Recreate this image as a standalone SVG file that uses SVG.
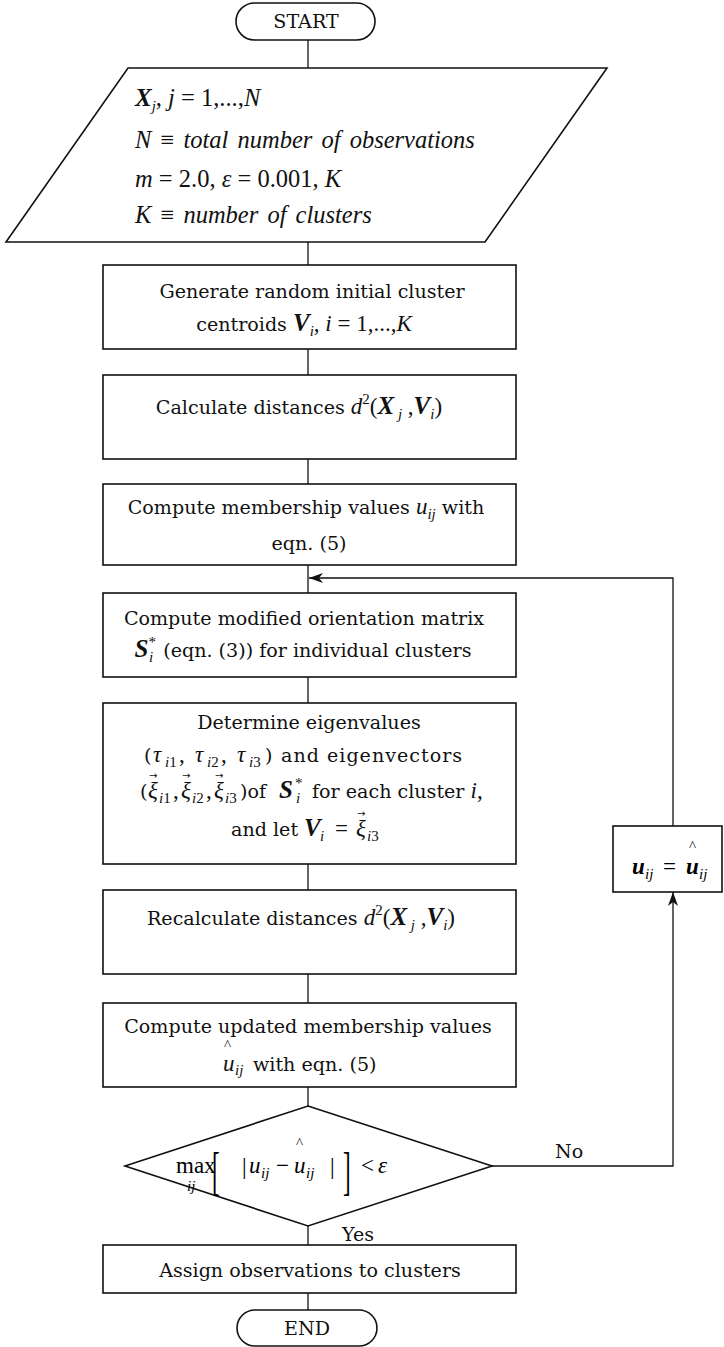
<svg xmlns="http://www.w3.org/2000/svg" width="724" height="1347" viewBox="0 0 724 1347">
  <style>
    .shape{fill:#fff;stroke:#111;stroke-width:1.6}
    .conn{fill:none;stroke:#111;stroke-width:1.3}
    .t{font-family:"DejaVu Serif",serif;font-size:19.1px;fill:#111}
    .m{font-family:"Liberation Serif",serif;font-style:italic;font-size:23px}
    .r{font-family:"Liberation Serif",serif;font-style:normal;font-size:23px}
    .b{font-family:"Liberation Serif",serif;font-style:italic;font-weight:bold;font-size:25px}
    .s{font-family:"Liberation Serif",serif;font-style:italic;font-size:15px}
    .hat{font-family:"Liberation Serif",serif;font-size:15px;fill:#111}
    .vec{font-family:"DejaVu Sans",sans-serif;font-size:10px;fill:#111}
    .io{font-family:"Liberation Serif",serif;font-style:italic;font-size:24.5px;fill:#111}
    .wide{word-spacing:3px}
  </style>
  <defs>
    <marker id="arr" viewBox="0 0 14 10" refX="14" refY="5" markerWidth="14" markerHeight="10" markerUnits="userSpaceOnUse" orient="auto">
      <path d="M0,0 L14,5 L0,10 L4,5 z" fill="#111"/>
    </marker>
  </defs>

  <!-- connectors -->
  <g id="connectors">
    <line class="conn" x1="308" y1="40" x2="308" y2="68"/>
    <line class="conn" x1="308" y1="242" x2="308" y2="265"/>
    <line class="conn" x1="308" y1="349" x2="308" y2="375"/>
    <line class="conn" x1="308" y1="459" x2="308" y2="484"/>
    <line class="conn" x1="308" y1="565" x2="308" y2="593"/>
    <line class="conn" x1="308" y1="677" x2="308" y2="703"/>
    <line class="conn" x1="308" y1="864" x2="308" y2="890"/>
    <line class="conn" x1="308" y1="974" x2="308" y2="1003"/>
    <line class="conn" x1="308" y1="1087" x2="308" y2="1106"/>
    <line class="conn" x1="308" y1="1226" x2="308" y2="1245"/>
    <line class="conn" x1="308" y1="1293" x2="308" y2="1310"/>
    <!-- "No" branch up to the update box -->
    <path class="conn" d="M492,1166 H673 V892" marker-end="url(#arr)"/>
    <!-- loop back into the main column -->
    <path class="conn" d="M673,826 V578 H309" marker-end="url(#arr)"/>
    <text class="t" x="555" y="1158">No</text>
    <text class="t" x="342" y="1241">Yes</text>
  </g>

  <g id="start">
    <rect class="shape" x="236" y="3" width="139" height="37" rx="18.5"/>
    <text class="t" x="306" y="28" text-anchor="middle">START</text>
  </g>

  <g id="input">
    <polygon class="shape" points="128,68 607,68 485,242 6,242"/>
    <text class="io" x="135" y="106"><tspan class="b" font-size="24.5px">X</tspan><tspan class="s" dy="5">j</tspan><tspan style="font-style:normal" dy="-5">, </tspan>j<tspan style="font-style:normal"> = 1,...,</tspan>N</text>
    <text class="io wide" x="135" y="148">N <tspan style="font-style:normal">≡</tspan> total number of observations</text>
    <text class="io" x="135" y="187">m<tspan style="font-style:normal"> = 2.0, </tspan>ε<tspan style="font-style:normal"> = 0.001, </tspan>K</text>
    <text class="io wide" x="135" y="223">K <tspan style="font-style:normal">≡</tspan> number of clusters</text>
  </g>

  <g id="init-centroids">
    <rect class="shape" x="103" y="265" width="413" height="84"/>
    <text class="t" x="312" y="298" text-anchor="middle">Generate random initial cluster</text>
    <text class="t" x="304" y="331" text-anchor="middle">centroids <tspan class="b">V</tspan><tspan class="s" dy="5">i</tspan><tspan class="r" dy="-5">, </tspan><tspan class="m">i</tspan><tspan class="r"> = 1,...,</tspan><tspan class="m">K</tspan></text>
  </g>

  <g id="distances">
    <rect class="shape" x="103" y="375" width="413" height="84"/>
    <text class="t" x="299" y="414" text-anchor="middle">Calculate distances <tspan class="m">d</tspan><tspan class="s" style="font-style:normal" dy="-10">2</tspan><tspan class="r" dy="10">(</tspan><tspan class="b">X</tspan><tspan class="s" dy="5"> j</tspan><tspan class="r" dy="-5"> ,</tspan><tspan class="b">V</tspan><tspan class="s" dy="5">i</tspan><tspan class="r" dy="-5">)</tspan></text>
  </g>

  <g id="membership">
    <rect class="shape" x="103" y="484" width="413" height="81"/>
    <text class="t" x="306" y="514" text-anchor="middle">Compute membership values <tspan class="m">u</tspan><tspan class="s" dy="5">ij</tspan><tspan dy="-5"> with</tspan></text>
    <text class="t" x="309" y="550" text-anchor="middle">eqn. (5)</text>
  </g>

  <g id="orientation">
    <rect class="shape" x="103" y="593" width="413" height="84"/>
    <text class="t" x="304" y="625" text-anchor="middle">Compute modified orientation matrix</text>
    <text class="t" x="303" y="657" text-anchor="middle"><tspan class="b">S</tspan><tspan class="s" style="font-style:normal" dy="-10">*</tspan><tspan class="s" dx="-7" dy="15">i</tspan><tspan dy="-5" dx="4"> (eqn. (3)) for individual clusters</tspan></text>
  </g>

  <g id="eigen">
    <rect class="shape" x="103" y="703" width="413" height="161"/>
    <text class="t" x="309" y="729" text-anchor="middle">Determine eigenvalues</text>
    <text class="t" y="762"><tspan x="144">(</tspan><tspan class="m" x="153">τ</tspan><tspan class="s" x="165" dy="5">i</tspan><tspan class="s" style="font-style:normal">1</tspan><tspan class="r" x="179" dy="-5">,</tspan><tspan class="m" x="195">τ</tspan><tspan class="s" x="207" dy="5">i</tspan><tspan class="s" style="font-style:normal">2</tspan><tspan class="r" x="221" dy="-5">,</tspan><tspan class="m" x="237">τ</tspan><tspan class="s" x="249" dy="5">i</tspan><tspan class="s" style="font-style:normal">3</tspan><tspan x="265" dy="-5">)</tspan><tspan x="281" letter-spacing="1">and eigenvectors</tspan></text>
    <text class="t" y="798"><tspan x="140">(</tspan><tspan class="m" x="148">ξ</tspan><tspan class="s" x="159" dy="5">i</tspan><tspan class="s" style="font-style:normal">1</tspan><tspan class="r" x="173" dy="-5">,</tspan><tspan class="m" x="181">ξ</tspan><tspan class="s" x="192" dy="5">i</tspan><tspan class="s" style="font-style:normal">2</tspan><tspan class="r" x="206" dy="-5">,</tspan><tspan class="m" x="214">ξ</tspan><tspan class="s" x="225" dy="5">i</tspan><tspan class="s" style="font-style:normal">3</tspan><tspan x="240" dy="-5">)of</tspan><tspan class="b" x="279">S</tspan><tspan class="s" style="font-style:normal" x="295" dy="-10">*</tspan><tspan class="s" x="296" dy="15">i</tspan><tspan x="312" dy="-5">for each cluster </tspan><tspan class="m">i</tspan><tspan class="r">,</tspan></text>
    <text class="vec" x="149" y="779">→</text>
    <text class="vec" x="182" y="779">→</text>
    <text class="vec" x="215" y="779">→</text>
    <text class="t" y="836"><tspan x="231">and let </tspan><tspan class="b" x="304">V</tspan><tspan class="s" x="320" dy="5">i</tspan><tspan class="r" x="335" dy="-5">=</tspan><tspan class="m" x="356">ξ</tspan><tspan class="s" x="367" dy="5">i</tspan><tspan class="s" style="font-style:normal">3</tspan></text>
    <text class="vec" x="357" y="817">→</text>
  </g>

  <g id="recalc">
    <rect class="shape" x="103" y="890" width="413" height="84"/>
    <text class="t" x="301" y="925" text-anchor="middle">Recalculate distances <tspan class="m">d</tspan><tspan class="s" style="font-style:normal" dy="-10">2</tspan><tspan class="r" dy="10">(</tspan><tspan class="b">X</tspan><tspan class="s" dy="5"> j</tspan><tspan class="r" dy="-5"> ,</tspan><tspan class="b">V</tspan><tspan class="s" dy="5">i</tspan><tspan class="r" dy="-5">)</tspan></text>
  </g>

  <g id="update-membership">
    <rect class="shape" x="103" y="1003" width="413" height="84"/>
    <text class="t" x="308" y="1033" text-anchor="middle">Compute updated membership values</text>
    <text class="hat" x="224" y="1050">^</text>
    <text class="t" y="1071"><tspan class="m" x="223">u</tspan><tspan class="s" x="235" dy="4">ij</tspan><tspan x="253" dy="-4">with eqn. (5)</tspan></text>
  </g>

  <g id="convergence">
    <polygon class="shape" points="308,1106 492,1166 308,1226 125,1166"/>
    <text class="r" x="176" y="1173" font-size="21">max</text>
    <text class="s" x="187" y="1191" font-size="12">ij</text>
    <text class="r" transform="translate(212,1189) scale(1,2.25)" font-size="22">[</text>
    <text class="r" transform="translate(343,1189) scale(1,2.25)" font-size="22">]</text>
    <text class="r" x="242" y="1174">|</text>
    <text class="m" x="249" y="1173">u</text>
    <text class="s" x="261" y="1178" font-size="13">ij</text>
    <text class="r" x="276" y="1173">−</text>
    <text class="hat" x="296" y="1148">^</text>
    <text class="m" x="294" y="1173">u</text>
    <text class="s" x="306" y="1178" font-size="13">ij</text>
    <text class="r" x="330" y="1174">|</text>
    <text class="r" x="361" y="1173">&lt;</text>
    <text class="m" x="378" y="1173">ε</text>
  </g>

  <g id="assign">
    <rect class="shape" x="103" y="1245" width="413" height="48"/>
    <text class="t" x="310" y="1277" text-anchor="middle">Assign observations to clusters</text>
  </g>

  <g id="end">
    <rect class="shape" x="237" y="1310" width="140" height="36" rx="18"/>
    <text class="t" x="307" y="1335" text-anchor="middle">END</text>
  </g>

  <g id="reset-membership">
    <rect class="shape" x="613" y="826" width="109" height="66"/>
    <text class="hat" x="689" y="851">^</text>
    <text y="874"><tspan class="m" style="font-weight:bold" x="632">u</tspan><tspan class="s" x="645" dy="5">ij</tspan><tspan class="r" x="663" dy="-5">=</tspan><tspan class="m" style="font-weight:bold" x="686">u</tspan><tspan class="s" x="699" dy="5">ij</tspan></text>
  </g>
</svg>
